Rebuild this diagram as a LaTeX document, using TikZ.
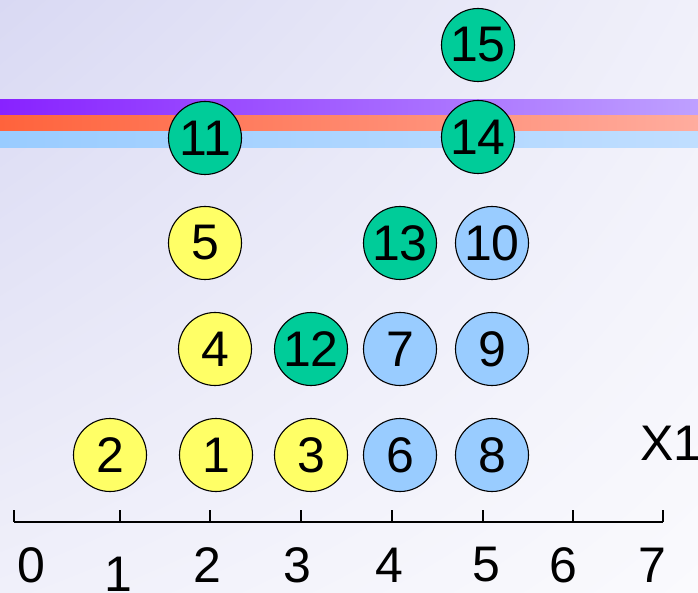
\documentclass[tikz,border=0pt]{standalone}
\usepackage{fontspec}
\setmainfont{Liberation Sans}
\usepackage{tikz}
\usetikzlibrary{positioning,shadings}
\definecolor{bgdark}{HTML}{D9D9F3}
\definecolor{bglight}{HTML}{FAFAFD}
\definecolor{ballyellow}{HTML}{FFFF66}
\definecolor{ballgreen}{HTML}{00CC99}
\definecolor{ballblue}{HTML}{99CCFF}

\begin{document}
\begin{tikzpicture}[x=1pt,y=-1pt,
    ball/.style={circle,draw,line width=1.1pt,minimum size=73pt,inner sep=0pt,
      font=\fontsize{50}{50}\selectfont},
    yball/.style={ball,fill=ballyellow},
    gball/.style={ball,fill=ballgreen},
    bball/.style={ball,fill=ballblue},
    axislabel/.style={font=\fontsize{50}{50}\selectfont,inner sep=0pt}]
    \useasboundingbox (0,0) rectangle (698,593);
    \shade[upper left=bgdark,lower right=bglight,upper right=bglight!70!bgdark,lower left=bglight!70!bgdark]
      (0,0) rectangle (698,593);
    % the three bands
    \shade[left color={rgb,255:red,136;green,34;blue,255},right color={rgb,255:red,190;green,160;blue,255}] (0,100) rectangle (698,116);
    \shade[left color={rgb,255:red,255;green,99;blue,60},right color={rgb,255:red,255;green,172;blue,158}] (0,116) rectangle (698,132);
    \shade[left color={rgb,255:red,153;green,204;blue,255},right color={rgb,255:red,192;green,222;blue,255}] (0,132) rectangle (698,148);
    % axis
    \coordinate (a0) at (14,522);
    \coordinate (a7) at (663,522);
    \draw[line width=1.4pt] (a0) -- (a7);
    \foreach \x in {14,120,210,301,392,483,573,663} {
      \draw[line width=1.4pt] (\x,522) -- (\x,510);
    }
    \foreach \x/\n/\y in {31/0/565,118/1/574,207/2/565,297/3/565,389/4/565,486/5/565,563/6/565,652/7/565} {
      \node[axislabel] (l\n) at (\x,\y) {\n};
    }
    \node[axislabel] (x1) at (671,443) {X1};
    % bottom row
    \node[yball] (b2) at (110,455) {2};
    \node[yball] (b1) at (216,455) {1};
    \node[yball] (b3) at (311,455) {3};
    \node[bball] (b6) at (400,455) {6};
    \node[bball] (b8) at (492,455) {8};
    % second row
    \node[yball] (b4) at (215,349) {4};
    \node[gball] (b12) at (311,349) {12};
    \node[bball] (b7) at (400,349) {7};
    \node[bball] (b9) at (492,349) {9};
    % third row
    \node[yball] (b5) at (205,243) {5};
    \node[gball] (b13) at (400,243) {13};
    \node[bball] (b10) at (492,243) {10};
    % top
    \node[gball] (b11) at (205,138) {11};
    \node[gball] (b14) at (478,137) {14};
    \node[gball] (b15) at (478,45) {15};
\end{tikzpicture}
\end{document}
